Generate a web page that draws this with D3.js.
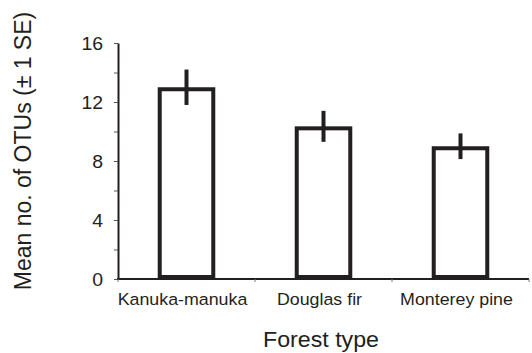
<!DOCTYPE html>
<html>
<head>
<meta charset="utf-8">
<script src="https://cdn.jsdelivr.net/npm/d3@7"></script>
<style>
  html, body { margin: 0; padding: 0; background: #fff; }
  svg { display: block; }
</style>
</head>
<body>
<svg id="chart"></svg>
<script>
// data
const categories = ['Kanuka-manuka', 'Douglas fir', 'Monterey pine'];
const means = [13.0, 10.35, 9.0];
const ses = [1.2, 1.05, 0.87];
const yTicks = [0, 2, 4, 6, 8, 10, 12, 14, 16];
const yLabels = [0, 4, 8, 12, 16];

const W = 532, H = 353;
const INK = '#231f20';
const STRETCH = 1.08; // the text in the picture is a bit wide

const svg = d3.select('#chart').attr('width', W).attr('height', H);

const x = d3.scaleBand().domain(categories).range([118, 529]).paddingInner(0).paddingOuter(0);
const y = d3.scaleLinear().domain([0, 16]).range([279, 43]);

const BAR_W = x.bandwidth() * 0.42;
const SW = 4;

function wideText(g, tx, ty, str, size, anchor, rot) {
  return g.append('text')
    .attr('transform', `translate(${tx},${ty})` + (rot ? ` rotate(${rot})` : '') + ` scale(${rot ? 1 : STRETCH},${rot ? STRETCH : 1})`)
    .attr('text-anchor', anchor)
    .attr('font-family', 'Liberation Sans, Arial, sans-serif')
    .attr('font-size', size)
    .attr('fill', INK)
    .text(str);
}

// y axis
const yAxis = d3.axisLeft(y).tickValues(yTicks).tickSize(4).tickSizeOuter(0).tickFormat('');
const ya = svg.append('g').attr('transform', 'translate(118,0)').call(yAxis);
ya.select('.domain').attr('stroke', INK).attr('stroke-width', 2);
ya.selectAll('.tick line').attr('stroke', '#555').attr('stroke-width', 1);

yLabels.forEach(v => {
  wideText(svg, 103, y(v) + 6.5, String(v), 18, 'end');
});

// x axis line and band ticks
svg.append('line')
  .attr('x1', 117).attr('x2', x.range()[1])
  .attr('y1', y(0)).attr('y2', y(0))
  .attr('stroke', INK).attr('stroke-width', 2);

const bounds = categories.map(c => x(c) + x.bandwidth()).concat([x(categories[0])]);
svg.selectAll('line.xt').data(bounds).enter().append('line')
  .attr('class', 'xt')
  .attr('x1', d => d).attr('x2', d => d)
  .attr('y1', y(0)).attr('y2', y(0) + 3)
  .attr('stroke', '#777').attr('stroke-width', 1);

// bars
const cx = c => x(c) + x.bandwidth() / 2;
svg.selectAll('rect.bar').data(categories).enter().append('rect')
  .attr('class', 'bar')
  .attr('x', c => cx(c) - BAR_W / 2 + SW / 2)
  .attr('width', BAR_W - SW)
  .attr('y', (c, i) => y(means[i]) + SW / 2)
  .attr('height', (c, i) => y(0) - y(means[i]) - SW)
  .attr('fill', '#fff')
  .attr('stroke', INK)
  .attr('stroke-width', SW);

// error bars
svg.selectAll('line.err').data(categories).enter().append('line')
  .attr('class', 'err')
  .attr('x1', c => cx(c)).attr('x2', c => cx(c))
  .attr('y1', (c, i) => y(means[i] + ses[i]))
  .attr('y2', (c, i) => y(means[i] - ses[i]))
  .attr('stroke', INK)
  .attr('stroke-width', SW);

// category labels (sit a touch left of the band centre in the picture)
categories.forEach(c => {
  wideText(svg, cx(c) - 4, 305, c, 16.5, 'middle');
});

// axis titles
wideText(svg, 321, 347, 'Forest type', 21.5, 'middle');
wideText(svg, 31, 151, 'Mean no. of OTUs (\u00b1 1 SE)', 23, 'middle', -90);
</script>
</body>
</html>
